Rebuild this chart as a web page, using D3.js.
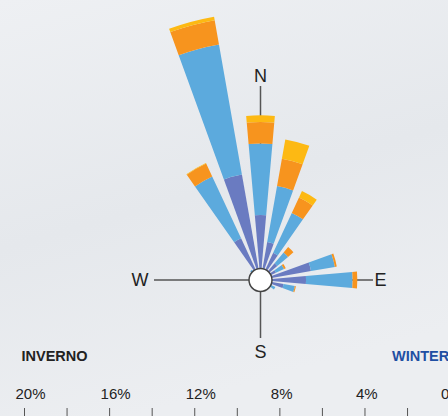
<!DOCTYPE html>
<html>
<head>
<meta charset="utf-8">
<script src="https://cdn.jsdelivr.net/npm/d3@7"></script>
<style>
    body { margin: 0; }
    svg { display: block; font-family: 'Liberation Sans', Arial, sans-serif; }
    .compass-label { font-size: 18px; fill: #222; }
    .season { font-size: 14.5px; font-weight: bold; }
    .axis text { font-size: 15px; fill: #222; font-family: 'Liberation Sans', Arial, sans-serif; }
    .axis line { stroke: #555; }
</style>
</head>
<body>
<svg id="chart"></svg>
<script>
// wind directions, one sector every 15 degrees (0 = north)
const directions = d3.range(0, 360, 15);

// share of time (%) per direction, stacked from the centre out
const bandA = [3.05, 1.81, 1.41, 1.03, 0.80, 2.41, 2.14, 1.10, 0.52, 0.3, 0.3, 0.3, 0.3, 0.3, 0.3, 0.3, 0.3, 0.3, 0.3, 0.3, 0.3, 0.42, 2.16, 5.03];
const bandB = [3.37, 2.67, 2.07, 0.66, 0.42, 1.14, 2.19, 0.54, 0.25, 0, 0, 0, 0, 0, 0, 0, 0, 0, 0, 0, 0, 0.21, 3.21, 6.21];
const bandC = [1.01, 1.31, 0.80, 0.33, 0.09, 0.09, 0.22, 0.05, 0, 0, 0, 0, 0, 0, 0, 0, 0, 0, 0, 0, 0, 0, 0.67, 1.16];
const bandD = [0.31, 0.92, 0.33, 0, 0, 0, 0, 0, 0, 0, 0, 0, 0, 0, 0, 0, 0, 0, 0, 0, 0, 0, 0.03, 0.16];

const bandKeys = ['a', 'b', 'c', 'd'];
const bandColors = ['#6a7bc1', '#5caadd', '#f7941e', '#fdb913'];

// scale labels below the rose
const axisTicks = d3.range(0, 21, 2);
const axisLabels = [0, 4, 8, 12, 16, 20];

class WindRose {
    constructor(_config) {
        this.config = {
            parentElement: _config.parentElement || 'body',
            width: _config.width || 448,
            height: _config.height || 416,
            center: _config.center || { x: 260.5, y: 280 },
            sectorWidth: _config.sectorWidth || 10
        };
        this.initVis();
    }

    initVis() {
        const that = this;
        const c = that.config.center;

        that.svg = d3.select(that.config.parentElement)
            .attr('width', that.config.width)
            .attr('height', that.config.height);

        // light grey paper background
        const defs = that.svg.append('defs');
        const grad = defs.append('linearGradient')
            .attr('id', 'bg')
            .attr('x1', 0).attr('y1', 0).attr('x2', 0.3).attr('y2', 1);
        grad.append('stop').attr('offset', '0%').attr('stop-color', '#eef0f3');
        grad.append('stop').attr('offset', '55%').attr('stop-color', '#e5e8ec');
        grad.append('stop').attr('offset', '100%').attr('stop-color', '#eceef1');

        that.svg.append('rect')
            .attr('width', that.config.width)
            .attr('height', that.config.height)
            .attr('fill', 'url(#bg)');

        // percent scale shared by the rose and the bottom axis
        that.xScale = d3.scaleLinear()
            .domain([20, 0])
            .range([24, 449.6]);

        that.rScale = d3.scaleLinear()
            .domain([0, 20])
            .range([0, that.xScale(0) - that.xScale(20)]);

        that.rose = that.svg.append('g')
            .attr('transform', `translate(${c.x}, ${c.y})`);

        // compass cross
        const compass = that.rose.append('g')
            .attr('stroke', '#555')
            .attr('stroke-width', 1.5);
        compass.append('line').attr('x1', 0).attr('y1', 0).attr('x2', 0).attr('y2', 86 - c.y);
        compass.append('line').attr('x1', 0).attr('y1', 0).attr('x2', 0).attr('y2', 338 - c.y);
        compass.append('line').attr('x1', 0).attr('y1', 0).attr('x2', 154 - c.x).attr('y2', 0);
        compass.append('line').attr('x1', 0).attr('y1', 0).attr('x2', 373 - c.x).attr('y2', 0);

        const labels = [
            { t: 'N', x: 0, y: 76 - c.y },
            { t: 'S', x: 0, y: 352 - c.y },
            { t: 'W', x: 140 - c.x, y: 0 },
            { t: 'E', x: 380.5 - c.x, y: 0 }
        ];
        that.rose.selectAll('.compass-label')
            .data(labels)
            .join('text')
            .attr('class', 'compass-label')
            .attr('x', d => d.x)
            .attr('y', d => d.y)
            .attr('dy', '0.35em')
            .attr('text-anchor', 'middle')
            .text(d => d.t);

        that.barsG = that.rose.append('g');

        // season titles
        that.svg.append('text')
            .attr('class', 'season')
            .attr('x', 21.5)
            .attr('y', 360.5)
            .attr('fill', '#222')
            .text('INVERNO');

        that.svg.append('text')
            .attr('class', 'season')
            .attr('x', 392)
            .attr('y', 360.5)
            .attr('fill', '#1f4fa3')
            .text('WINTER');

        // bottom axis, ticks every 2%, labels every 4%
        that.xAxis = d3.axisTop(that.xScale)
            .tickValues(axisTicks)
            .tickSize(10)
            .tickPadding(8.7)
            .tickFormat(d => axisLabels.includes(d) ? d + '%' : '');

        that.xAxisG = that.svg.append('g')
            .attr('class', 'axis')
            .attr('transform', 'translate(0, 418)');
    }

    updateVis() {
        const that = this;

        that.table = directions.map((dir, i) => ({
            dir: dir,
            a: bandA[i],
            b: bandB[i],
            c: bandC[i],
            d: bandD[i]
        }));

        that.series = d3.stack().keys(bandKeys)(that.table);

        that.renderVis();
    }

    renderVis() {
        const that = this;
        const half = that.config.sectorWidth / 2 * Math.PI / 180;

        const arc = d3.arc()
            .innerRadius(d => that.rScale(d[0]))
            .outerRadius(d => that.rScale(d[1]))
            .startAngle(d => d.data.dir * Math.PI / 180 - half)
            .endAngle(d => d.data.dir * Math.PI / 180 + half);

        that.barsG.selectAll('g')
            .data(that.series)
            .join('g')
            .attr('fill', (d, i) => bandColors[i])
            .selectAll('path')
            .data(d => d.filter(p => p[1] > p[0]))
            .join('path')
            .attr('d', arc);

        // centre hub
        that.rose.append('circle')
            .attr('r', 11.5)
            .attr('fill', '#fff')
            .attr('stroke', '#444')
            .attr('stroke-width', 1.5);

        that.xAxisG.call(that.xAxis);
        that.xAxisG.select('.domain').remove();
        that.xAxisG.selectAll('text')
            .attr('text-anchor', 'start')
            .attr('dx', -9);
    }
}

const rose = new WindRose({ parentElement: '#chart' });
rose.updateVis();
</script>
</body>
</html>
